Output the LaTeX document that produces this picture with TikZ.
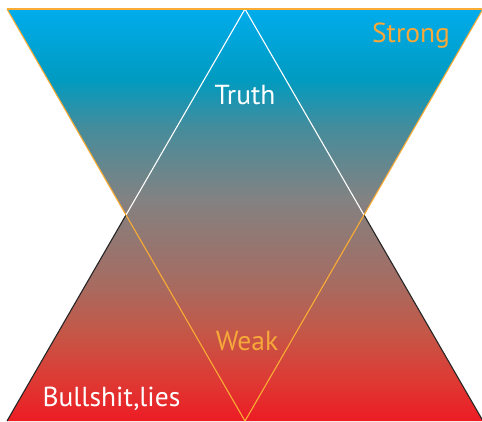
\documentclass[tikz,border=0pt]{standalone}
\usepackage{fontspec}
\setmainfont{PT Sans}
\definecolor{c100}{RGB}{0,172,236}
\definecolor{c83}{RGB}{0,155,192}
\definecolor{c71}{RGB}{70,140,155}
\definecolor{c54}{RGB}{130,130,130}
\definecolor{c34}{RGB}{165,108,98}
\definecolor{c22}{RGB}{195,88,72}
\definecolor{c10}{RGB}{222,58,52}
\definecolor{c0}{RGB}{237,28,36}
\definecolor{lineorange}{RGB}{250,172,52}
\definecolor{textorange}{RGB}{246,168,58}
\pgfdeclareverticalshading{hourglass}{100bp}{color(0bp)=(c0); color(25bp)=(c0); color(30bp)=(c10); color(36bp)=(c22); color(42bp)=(c34); color(52bp)=(c54); color(60.5bp)=(c71); color(66.5bp)=(c83); color(75bp)=(c100); color(100bp)=(c100)}
\tikzset{
  lbl/.style={anchor=base, font=\fontsize{27.5}{28}\selectfont, inner sep=0pt},
  oline/.style={draw=lineorange, line width=1.1pt},
  wline/.style={draw=white, line width=1.1pt},
  kline/.style={draw=black!85, line width=1.1pt}
}
\begin{document}
\begin{tikzpicture}[x=1pt,y=-1pt]
\useasboundingbox (0,0) rectangle (482,422);
\coordinate (TL) at (7,9);
\coordinate (TR) at (483,9);
\coordinate (BL) at (7,421);
\coordinate (BR) at (483,421);
\coordinate (TA) at (245,9);
\coordinate (BA) at (245,421);
\coordinate (XL) at (126,215);
\coordinate (XR) at (364,215);
\shade[shading=hourglass] (TL) -- (TR) -- (XR) -- (BR) -- (BL) -- (XL) -- cycle;
\draw[wline] (TA) -- (XL);
\draw[wline] (TA) -- (XR);
\draw[kline] (XL) -- (BL);
\draw[kline] (XR) -- (BR);
\draw[oline] (TL) -- (TR);
\draw[oline] (TL) -- (BA);
\draw[oline] (TR) -- (BA);
\node[lbl, text=textorange] (strong) at (411,43) {Strong};
\node[lbl, text=white] (truth) at (245,105) {Truth};
\node[lbl, text=textorange] (weak) at (247,350) {Weak};
\node[lbl, text=white] (bull) at (111.5,406) {Bullshit,lies};
\end{tikzpicture}
\end{document}
